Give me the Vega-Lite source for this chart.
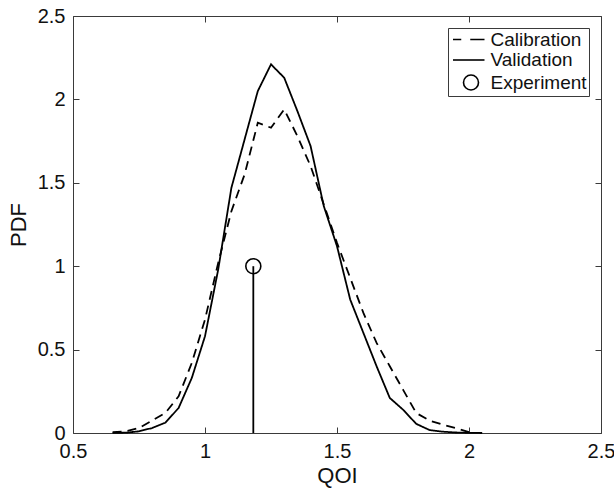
{
  "$schema": "https://vega.github.io/schema/vega-lite/v6.json",
  "width": 528,
  "height": 417,
  "autosize": {"type": "none"},
  "padding": {"left": 73, "top": 16, "right": 13, "bottom": 56},
  "background": "white",
  "config": {
    "font": "Liberation Sans",
    "view": {"stroke": "#3a3a3a", "strokeWidth": 1},
    "axis": {
      "grid": false,
      "domain": false,
      "tickColor": "#3a3a3a",
      "tickSize": -6,
      "labelFont": "Liberation Sans",
      "labelFontSize": 20,
      "labelColor": "#111",
      "titleFont": "Liberation Sans",
      "titleFontSize": 22,
      "titleFontWeight": "normal",
      "titleColor": "#111",
      "labelFlush": false,
      "labelOverlap": false
    },
    "legend": {
      "labelFont": "Liberation Sans",
      "labelFontSize": 19,
      "labelColor": "#111"
    }
  },
  "data": {
    "values": [
      {"series": "Validation", "qoi": 0.65, "pdf": 0.0},
      {"series": "Validation", "qoi": 0.70, "pdf": 0.002},
      {"series": "Validation", "qoi": 0.75, "pdf": 0.01},
      {"series": "Validation", "qoi": 0.80, "pdf": 0.03},
      {"series": "Validation", "qoi": 0.85, "pdf": 0.062},
      {"series": "Validation", "qoi": 0.90, "pdf": 0.15},
      {"series": "Validation", "qoi": 0.95, "pdf": 0.33},
      {"series": "Validation", "qoi": 1.00, "pdf": 0.58},
      {"series": "Validation", "qoi": 1.05, "pdf": 0.98},
      {"series": "Validation", "qoi": 1.10, "pdf": 1.47},
      {"series": "Validation", "qoi": 1.15, "pdf": 1.76},
      {"series": "Validation", "qoi": 1.20, "pdf": 2.05},
      {"series": "Validation", "qoi": 1.25, "pdf": 2.21},
      {"series": "Validation", "qoi": 1.30, "pdf": 2.13},
      {"series": "Validation", "qoi": 1.35, "pdf": 1.93},
      {"series": "Validation", "qoi": 1.40, "pdf": 1.72},
      {"series": "Validation", "qoi": 1.45, "pdf": 1.36},
      {"series": "Validation", "qoi": 1.50, "pdf": 1.12},
      {"series": "Validation", "qoi": 1.55, "pdf": 0.80},
      {"series": "Validation", "qoi": 1.60, "pdf": 0.60},
      {"series": "Validation", "qoi": 1.65, "pdf": 0.40},
      {"series": "Validation", "qoi": 1.70, "pdf": 0.21},
      {"series": "Validation", "qoi": 1.75, "pdf": 0.14},
      {"series": "Validation", "qoi": 1.80, "pdf": 0.055},
      {"series": "Validation", "qoi": 1.85, "pdf": 0.018},
      {"series": "Validation", "qoi": 1.90, "pdf": 0.008},
      {"series": "Validation", "qoi": 1.95, "pdf": 0.003},
      {"series": "Validation", "qoi": 2.00, "pdf": 0.001},
      {"series": "Validation", "qoi": 2.05, "pdf": 0.0},
      {"series": "Calibration", "qoi": 0.65, "pdf": 0.005},
      {"series": "Calibration", "qoi": 0.70, "pdf": 0.01},
      {"series": "Calibration", "qoi": 0.75, "pdf": 0.03},
      {"series": "Calibration", "qoi": 0.80, "pdf": 0.075},
      {"series": "Calibration", "qoi": 0.85, "pdf": 0.12},
      {"series": "Calibration", "qoi": 0.90, "pdf": 0.22},
      {"series": "Calibration", "qoi": 0.95, "pdf": 0.42},
      {"series": "Calibration", "qoi": 1.00, "pdf": 0.68},
      {"series": "Calibration", "qoi": 1.05, "pdf": 1.02},
      {"series": "Calibration", "qoi": 1.10, "pdf": 1.33},
      {"series": "Calibration", "qoi": 1.15, "pdf": 1.55},
      {"series": "Calibration", "qoi": 1.20, "pdf": 1.86},
      {"series": "Calibration", "qoi": 1.25, "pdf": 1.83},
      {"series": "Calibration", "qoi": 1.30, "pdf": 1.94},
      {"series": "Calibration", "qoi": 1.35, "pdf": 1.78},
      {"series": "Calibration", "qoi": 1.40, "pdf": 1.60},
      {"series": "Calibration", "qoi": 1.45, "pdf": 1.37},
      {"series": "Calibration", "qoi": 1.50, "pdf": 1.14},
      {"series": "Calibration", "qoi": 1.55, "pdf": 0.93},
      {"series": "Calibration", "qoi": 1.60, "pdf": 0.72},
      {"series": "Calibration", "qoi": 1.65, "pdf": 0.54},
      {"series": "Calibration", "qoi": 1.70, "pdf": 0.40},
      {"series": "Calibration", "qoi": 1.75, "pdf": 0.26},
      {"series": "Calibration", "qoi": 1.80, "pdf": 0.12},
      {"series": "Calibration", "qoi": 1.85, "pdf": 0.075},
      {"series": "Calibration", "qoi": 1.90, "pdf": 0.05},
      {"series": "Calibration", "qoi": 1.95, "pdf": 0.03},
      {"series": "Calibration", "qoi": 2.00, "pdf": 0.005},
      {"series": "Experiment", "qoi": 1.183, "pdf": 1.0}
    ]
  },
  "layer": [
    {
      "transform": [{"filter": "datum.series !== 'Experiment'"}],
      "mark": {"type": "line", "color": "black", "strokeWidth": 1.8},
      "encoding": {
        "x": {
          "field": "qoi", "type": "quantitative",
          "scale": {"domain": [0.5, 2.5], "nice": false, "zero": false},
          "axis": {"orient": "bottom", "title": "QOI", "values": [0.5, 1, 1.5, 2, 2.5], "format": "~g", "labelPadding": 14, "titlePadding": 4}
        },
        "y": {
          "field": "pdf", "type": "quantitative",
          "scale": {"domain": [0, 2.5], "nice": false},
          "axis": {"orient": "left", "title": "PDF", "values": [0, 0.5, 1, 1.5, 2, 2.5], "format": "~g", "labelPadding": 14, "titlePadding": 7}
        },
        "strokeDash": {
          "field": "series", "type": "nominal",
          "scale": {"domain": ["Calibration", "Validation"], "range": [[9, 6], [1, 0]]},
          "legend": null
        },
        "detail": {"field": "series"}
      }
    },
    {
      "transform": [{"filter": "datum.series === 'Experiment'"}],
      "encoding": {
        "x": {
          "field": "qoi", "type": "quantitative",
          "scale": {"domain": [0.5, 2.5], "nice": false, "zero": false},
          "axis": {"orient": "top", "title": null, "labels": false, "values": [0.5, 1, 1.5, 2, 2.5]}
        }
      },
      "layer": [
        {
          "mark": {"type": "rule", "color": "black", "strokeWidth": 1.8},
          "encoding": {
            "y": {
              "field": "pdf", "type": "quantitative",
              "scale": {"domain": [0, 2.5], "nice": false},
              "axis": {"orient": "right", "title": null, "labels": false, "values": [0, 0.5, 1, 1.5, 2, 2.5]}
            },
            "y2": {"datum": 0}
          }
        },
        {
          "mark": {"type": "point", "filled": false, "color": "black", "strokeWidth": 1.6, "size": 225, "opacity": 1},
          "encoding": {
            "y": {"field": "pdf", "type": "quantitative"},
            "shape": {
              "field": "series", "type": "nominal",
              "scale": {
                "domain": ["Calibration", "Validation", "Experiment"],
                "range": ["M-2.4,0H-1.3M-0.1,0H1.8", "M-2.4,0H1.8", "circle"]
              },
              "legend": {
                "title": null,
                "orient": "top-right",
                "offset": 12,
                "padding": 2,
                "strokeColor": "#3a3a3a",
                "fillColor": "white",
                "symbolSize": 225,
                "symbolStrokeColor": "black",
                "symbolFillColor": "transparent",
                "symbolStrokeWidth": 1.6,
                "symbolOffset": 11.5,
                "labelOffset": 10,
                "rowPadding": 0.5
              }
            }
          }
        }
      ]
    }
  ],
  "resolve": {"scale": {"x": "independent", "y": "independent"}}
}
